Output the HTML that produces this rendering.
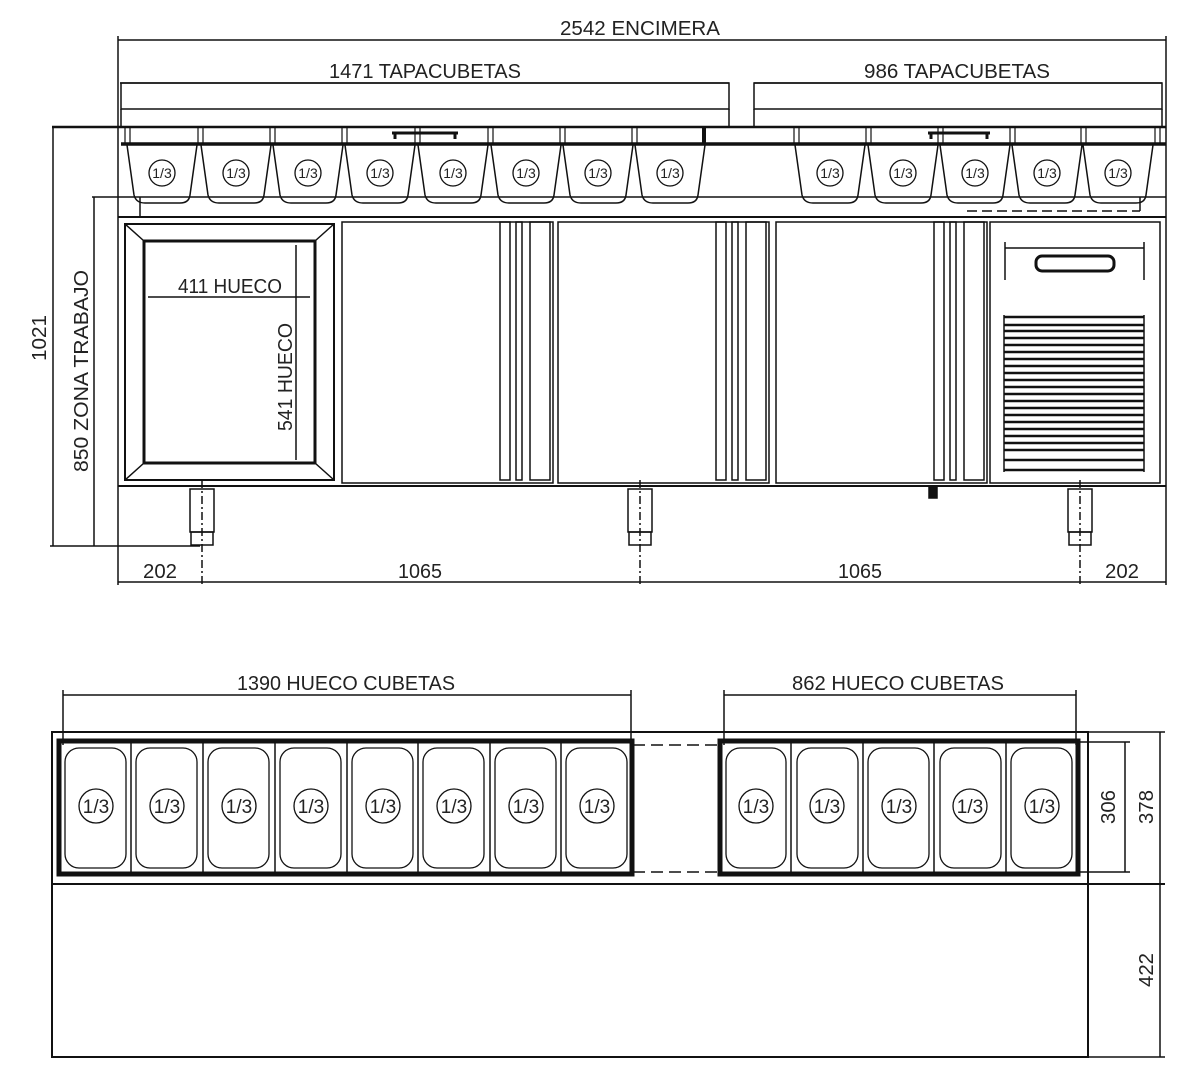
<!DOCTYPE html>
<html><head><meta charset="utf-8"><style>
html,body{margin:0;padding:0;background:#fff;}
svg{display:block;}
text{font-family:"Liberation Sans Narrow","Liberation Sans",sans-serif;fill:#222;}
</style></head><body>
<svg width="1200" height="1080" viewBox="0 0 1200 1080" xmlns="http://www.w3.org/2000/svg">
<g stroke="#111" fill="none" stroke-width="1.5">
<!-- top dimension lines -->
<line x1="118" y1="40" x2="1166" y2="40"/>
<line x1="118" y1="36" x2="118" y2="585"/>
<line x1="1166" y1="36" x2="1166" y2="585"/>
<line x1="120" y1="83" x2="729" y2="83"/>
<line x1="754" y1="83" x2="1162" y2="83"/>
<!-- lids -->
<rect x="121" y="83" width="608" height="26"/>
<rect x="754" y="83" width="408" height="26"/>
<line x1="121" y1="109" x2="121" y2="127"/><line x1="729" y1="109" x2="729" y2="127"/>
<line x1="754" y1="109" x2="754" y2="127"/><line x1="1162" y1="109" x2="1162" y2="127"/>
<!-- rim -->
<line x1="52" y1="127" x2="1166" y2="127" stroke-width="2.5"/>
<line x1="121" y1="144" x2="1166" y2="144" stroke-width="3.5"/>
<line x1="92" y1="197" x2="1166" y2="197"/>
<line x1="118" y1="217" x2="1166" y2="217" stroke-width="2"/>
<line x1="140" y1="197" x2="140" y2="217"/>
<line x1="967" y1="211" x2="1140" y2="211" stroke-dasharray="10,5"/>
<line x1="1140" y1="197" x2="1140" y2="211"/>
<!-- left dims -->
<line x1="53" y1="127" x2="53" y2="546"/>
<line x1="94" y1="197" x2="94" y2="546"/>
<line x1="50" y1="546" x2="200" y2="546"/>
</g>
<!-- top pans -->
<g stroke="#111" fill="none" stroke-width="1.5">
<path d="M127 145 L134 195 Q136 203 145 203 L180 203 Q189 203 190 195 L197 145"/>
<path d="M201 145 L208 195 Q210 203 219 203 L254 203 Q263 203 264 195 L271 145"/>
<path d="M273 145 L280 195 Q282 203 291 203 L326 203 Q335 203 336 195 L343 145"/>
<path d="M345 145 L352 195 Q354 203 363 203 L398 203 Q407 203 408 195 L415 145"/>
<path d="M418 145 L425 195 Q427 203 436 203 L471 203 Q480 203 481 195 L488 145"/>
<path d="M491 145 L498 195 Q500 203 509 203 L544 203 Q553 203 554 195 L561 145"/>
<path d="M563 145 L570 195 Q572 203 581 203 L616 203 Q625 203 626 195 L633 145"/>
<path d="M635 145 L642 195 Q644 203 653 203 L688 203 Q697 203 698 195 L705 145"/>
<path d="M795 145 L802 195 Q804 203 813 203 L848 203 Q857 203 858 195 L865 145"/>
<path d="M868 145 L875 195 Q877 203 886 203 L921 203 Q930 203 931 195 L938 145"/>
<path d="M940 145 L947 195 Q949 203 958 203 L993 203 Q1002 203 1003 195 L1010 145"/>
<path d="M1012 145 L1019 195 Q1021 203 1030 203 L1065 203 Q1074 203 1075 195 L1082 145"/>
<path d="M1083 145 L1090 195 Q1092 203 1101 203 L1136 203 Q1145 203 1146 195 L1153 145"/>
<g stroke-width="1.2">
<line x1="125" y1="127" x2="125" y2="144"/><line x1="130" y1="127" x2="130" y2="144"/>
<line x1="198" y1="127" x2="198" y2="144"/><line x1="203" y1="127" x2="203" y2="144"/>
<line x1="270" y1="127" x2="270" y2="144"/><line x1="275" y1="127" x2="275" y2="144"/>
<line x1="342" y1="127" x2="342" y2="144"/><line x1="347" y1="127" x2="347" y2="144"/>
<line x1="415" y1="127" x2="415" y2="144"/><line x1="420" y1="127" x2="420" y2="144"/>
<line x1="488" y1="127" x2="488" y2="144"/><line x1="493" y1="127" x2="493" y2="144"/>
<line x1="560" y1="127" x2="560" y2="144"/><line x1="565" y1="127" x2="565" y2="144"/>
<line x1="632" y1="127" x2="632" y2="144"/><line x1="637" y1="127" x2="637" y2="144"/>
<line x1="704" y1="127" x2="704" y2="144" stroke-width="4"/>
<line x1="794" y1="127" x2="794" y2="144"/><line x1="799" y1="127" x2="799" y2="144"/>
<line x1="866" y1="127" x2="866" y2="144"/><line x1="871" y1="127" x2="871" y2="144"/>
<line x1="938" y1="127" x2="938" y2="144"/><line x1="943" y1="127" x2="943" y2="144"/>
<line x1="1010" y1="127" x2="1010" y2="144"/><line x1="1015" y1="127" x2="1015" y2="144"/>
<line x1="1081" y1="127" x2="1081" y2="144"/><line x1="1086" y1="127" x2="1086" y2="144"/>
<line x1="1155" y1="127" x2="1155" y2="144"/><line x1="1160" y1="127" x2="1160" y2="144"/>
</g>
<path d="M392 133 L458 133 M395 133 L395 139 M455 133 L455 139" stroke-width="3"/>
<path d="M928 133 L990 133 M931 133 L931 139 M987 133 L987 139" stroke-width="3"/>
<g stroke-width="1.3">
<circle cx="162" cy="173" r="13"/><circle cx="236" cy="173" r="13"/><circle cx="308" cy="173" r="13"/>
<circle cx="380" cy="173" r="13"/><circle cx="453" cy="173" r="13"/><circle cx="526" cy="173" r="13"/>
<circle cx="598" cy="173" r="13"/><circle cx="670" cy="173" r="13"/><circle cx="830" cy="173" r="13"/>
<circle cx="903" cy="173" r="13"/><circle cx="975" cy="173" r="13"/><circle cx="1047" cy="173" r="13"/>
<circle cx="1118" cy="173" r="13"/>
</g>
</g>
<g font-size="14" text-anchor="middle">
<text x="162" y="178">1/3</text><text x="236" y="178">1/3</text><text x="308" y="178">1/3</text>
<text x="380" y="178">1/3</text><text x="453" y="178">1/3</text><text x="526" y="178">1/3</text>
<text x="598" y="178">1/3</text><text x="670" y="178">1/3</text><text x="830" y="178">1/3</text>
<text x="903" y="178">1/3</text><text x="975" y="178">1/3</text><text x="1047" y="178">1/3</text>
<text x="1118" y="178">1/3</text>
</g>
<!-- body -->
<g stroke="#111" fill="none" stroke-width="1.5">
<line x1="118" y1="486" x2="1166" y2="486" stroke-width="2"/>
<rect x="125" y="224" width="209" height="256" stroke-width="2"/>
<rect x="144" y="241" width="171" height="222" stroke-width="3"/>
<line x1="125" y1="224" x2="144" y2="241"/><line x1="334" y1="224" x2="315" y2="241"/>
<line x1="125" y1="480" x2="144" y2="463"/><line x1="334" y1="480" x2="315" y2="463"/>
<line x1="148" y1="297" x2="310" y2="297"/>
<line x1="296" y1="245" x2="296" y2="460"/>
<rect x="342" y="222" width="211" height="261"/>
<rect x="558" y="222" width="211" height="261"/>
<rect x="776" y="222" width="211" height="261"/>
<rect x="500" y="222" width="10" height="258"/><rect x="516" y="222" width="6" height="258"/><rect x="530" y="222" width="20" height="258"/>
<rect x="716" y="222" width="10" height="258"/><rect x="732" y="222" width="6" height="258"/><rect x="746" y="222" width="20" height="258"/>
<rect x="934" y="222" width="10" height="258"/><rect x="950" y="222" width="6" height="258"/><rect x="964" y="222" width="20" height="258"/>
<rect x="990" y="222" width="170" height="261"/>
<line x1="1005" y1="248" x2="1144" y2="248"/>
<line x1="1005" y1="242" x2="1005" y2="280"/><line x1="1144" y1="242" x2="1144" y2="280"/>
<rect x="1036" y="256" width="78" height="15" rx="6" stroke-width="3"/>
<g stroke-width="2.5">
<line x1="1004" y1="317" x2="1144" y2="317"/><line x1="1004" y1="325" x2="1144" y2="325"/>
<line x1="1004" y1="331" x2="1144" y2="331"/><line x1="1004" y1="338" x2="1144" y2="338"/>
<line x1="1004" y1="345" x2="1144" y2="345"/><line x1="1004" y1="352" x2="1144" y2="352"/>
<line x1="1004" y1="359" x2="1144" y2="359"/><line x1="1004" y1="366" x2="1144" y2="366"/>
<line x1="1004" y1="373" x2="1144" y2="373"/><line x1="1004" y1="380" x2="1144" y2="380"/>
<line x1="1004" y1="387" x2="1144" y2="387"/><line x1="1004" y1="394" x2="1144" y2="394"/>
<line x1="1004" y1="401" x2="1144" y2="401"/><line x1="1004" y1="408" x2="1144" y2="408"/>
<line x1="1004" y1="415" x2="1144" y2="415"/><line x1="1004" y1="422" x2="1144" y2="422"/>
<line x1="1004" y1="429" x2="1144" y2="429"/><line x1="1004" y1="436" x2="1144" y2="436"/>
<line x1="1004" y1="443" x2="1144" y2="443"/><line x1="1004" y1="450" x2="1144" y2="450"/>
<line x1="1004" y1="460" x2="1144" y2="460"/><line x1="1004" y1="470" x2="1144" y2="470"/>
</g>
<line x1="1004" y1="315" x2="1004" y2="472"/><line x1="1144" y1="315" x2="1144" y2="472"/>
<!-- legs -->
<rect x="190" y="489" width="24" height="43"/><rect x="191" y="532" width="22" height="13"/>
<rect x="628" y="489" width="24" height="43"/><rect x="629" y="532" width="22" height="13"/>
<rect x="1068" y="489" width="24" height="43"/><rect x="1069" y="532" width="22" height="13"/>
<line x1="202" y1="480" x2="202" y2="585" stroke-dasharray="8,3,2,3"/>
<line x1="640" y1="480" x2="640" y2="585" stroke-dasharray="8,3,2,3"/>
<line x1="1080" y1="480" x2="1080" y2="585" stroke-dasharray="8,3,2,3"/>
<rect x="929" y="486" width="8" height="12" fill="#111"/>
<!-- bottom dims -->
<line x1="118" y1="582" x2="1166" y2="582"/>
</g>
<!-- bottom plan view -->
<g stroke="#111" fill="none" stroke-width="1.5">
<line x1="63" y1="695" x2="631" y2="695"/><line x1="63" y1="690" x2="63" y2="745"/><line x1="631" y1="690" x2="631" y2="745"/>
<line x1="724" y1="695" x2="1076" y2="695"/><line x1="724" y1="690" x2="724" y2="745"/><line x1="1076" y1="690" x2="1076" y2="745"/>
<rect x="52" y="732" width="1036" height="325" stroke-width="2"/>
<line x1="52" y1="884" x2="1165" y2="884" stroke-width="2"/>
<line x1="1088" y1="732" x2="1165" y2="732"/>
<line x1="1088" y1="1057" x2="1165" y2="1057"/>
<line x1="1080" y1="742" x2="1130" y2="742"/><line x1="1080" y1="872" x2="1130" y2="872"/>
<line x1="1125" y1="742" x2="1125" y2="872"/>
<line x1="1160" y1="732" x2="1160" y2="1057"/>
<line x1="633" y1="745" x2="719" y2="745" stroke-dasharray="12,6"/>
<line x1="633" y1="872" x2="719" y2="872" stroke-dasharray="12,6"/>
<rect x="59" y="741" width="573" height="133" stroke-width="5"/>
<rect x="720" y="741" width="358" height="133" stroke-width="5"/>
<g stroke-width="1.5">
<line x1="131" y1="741" x2="131" y2="874"/><line x1="203" y1="741" x2="203" y2="874"/>
<line x1="275" y1="741" x2="275" y2="874"/><line x1="347" y1="741" x2="347" y2="874"/>
<line x1="418" y1="741" x2="418" y2="874"/><line x1="490" y1="741" x2="490" y2="874"/>
<line x1="561" y1="741" x2="561" y2="874"/>
<line x1="791" y1="741" x2="791" y2="874"/><line x1="863" y1="741" x2="863" y2="874"/>
<line x1="934" y1="741" x2="934" y2="874"/><line x1="1006" y1="741" x2="1006" y2="874"/>
</g>
<g stroke-width="1.3">
<rect x="65" y="748" width="61" height="120" rx="14"/><rect x="136" y="748" width="61" height="120" rx="14"/>
<rect x="208" y="748" width="61" height="120" rx="14"/><rect x="280" y="748" width="61" height="120" rx="14"/>
<rect x="352" y="748" width="61" height="120" rx="14"/><rect x="423" y="748" width="61" height="120" rx="14"/>
<rect x="495" y="748" width="61" height="120" rx="14"/><rect x="566" y="748" width="61" height="120" rx="14"/>
<rect x="726" y="748" width="60" height="120" rx="14"/><rect x="797" y="748" width="61" height="120" rx="14"/>
<rect x="868" y="748" width="61" height="120" rx="14"/><rect x="940" y="748" width="61" height="120" rx="14"/>
<rect x="1011" y="748" width="61" height="120" rx="14"/>
<circle cx="96" cy="806" r="17"/><circle cx="167" cy="806" r="17"/><circle cx="239" cy="806" r="17"/>
<circle cx="311" cy="806" r="17"/><circle cx="383" cy="806" r="17"/><circle cx="454" cy="806" r="17"/>
<circle cx="526" cy="806" r="17"/><circle cx="597" cy="806" r="17"/>
<circle cx="756" cy="806" r="17"/><circle cx="827" cy="806" r="17"/><circle cx="899" cy="806" r="17"/>
<circle cx="970" cy="806" r="17"/><circle cx="1042" cy="806" r="17"/>
</g>
</g>
<g font-size="19" text-anchor="middle">
<text x="96" y="813">1/3</text><text x="167" y="813">1/3</text><text x="239" y="813">1/3</text>
<text x="311" y="813">1/3</text><text x="383" y="813">1/3</text><text x="454" y="813">1/3</text>
<text x="526" y="813">1/3</text><text x="597" y="813">1/3</text>
<text x="756" y="813">1/3</text><text x="827" y="813">1/3</text><text x="899" y="813">1/3</text>
<text x="970" y="813">1/3</text><text x="1042" y="813">1/3</text>
</g>
<!-- labels -->
<g font-size="20" text-anchor="middle">
<text x="640" y="35" textLength="160" lengthAdjust="spacingAndGlyphs">2542 ENCIMERA</text>
<text x="425" y="78" textLength="192" lengthAdjust="spacingAndGlyphs">1471 TAPACUBETAS</text>
<text x="957" y="78" textLength="186" lengthAdjust="spacingAndGlyphs">986 TAPACUBETAS</text>
<text x="230" y="293" textLength="104" lengthAdjust="spacingAndGlyphs">411 HUECO</text>
<text x="160" y="578" textLength="34" lengthAdjust="spacingAndGlyphs">202</text>
<text x="420" y="578" textLength="44" lengthAdjust="spacingAndGlyphs">1065</text>
<text x="860" y="578" textLength="44" lengthAdjust="spacingAndGlyphs">1065</text>
<text x="1122" y="578" textLength="34" lengthAdjust="spacingAndGlyphs">202</text>
<text x="346" y="690" textLength="218" lengthAdjust="spacingAndGlyphs">1390 HUECO CUBETAS</text>
<text x="898" y="690" textLength="212" lengthAdjust="spacingAndGlyphs">862 HUECO CUBETAS</text>
<text transform="translate(292,377) rotate(-90)" textLength="108" lengthAdjust="spacingAndGlyphs">541 HUECO</text>
<text transform="translate(46,338) rotate(-90)" textLength="46" lengthAdjust="spacingAndGlyphs">1021</text>
<text transform="translate(88,371) rotate(-90)" textLength="202" lengthAdjust="spacingAndGlyphs">850 ZONA TRABAJO</text>
<text transform="translate(1115,807) rotate(-90)" textLength="34" lengthAdjust="spacingAndGlyphs">306</text>
<text transform="translate(1153,807) rotate(-90)" textLength="34" lengthAdjust="spacingAndGlyphs">378</text>
<text transform="translate(1153,970) rotate(-90)" textLength="34" lengthAdjust="spacingAndGlyphs">422</text>
</g>
</svg>
</body></html>
